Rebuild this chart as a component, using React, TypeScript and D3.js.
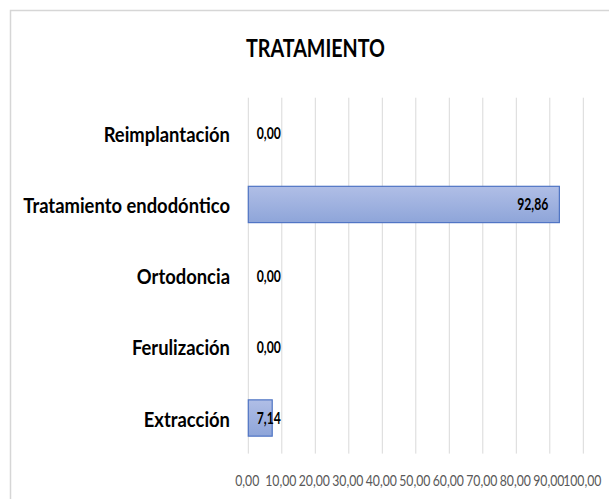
import React from "react";
import * as d3 from "d3";

const title = "TRATAMIENTO";
const categories = [
  "Reimplantación",
  "Tratamiento endodóntico",
  "Ortodoncia",
  "Ferulización",
  "Extracción",
];
const values = [0, 92.86, 0, 0, 7.14];
const tickValues = [0, 10, 20, 30, 40, 50, 60, 70, 80, 90, 100];

const W = 609;
const H = 499;
const FONT = "Lato, 'Open Sans', sans-serif";

const fmt = (v: number) => v.toFixed(2).replace(".", ",");

const squeeze = (cx: number, s: number) =>
  `translate(${cx},0) scale(${s},1) translate(${-cx},0)`;

export default function App() {
  const x = d3.scaleLinear().domain([0, 100]).range([248.3, 583.3]);
  const y = d3
    .scaleBand<string>()
    .domain(categories)
    .range([97.7, 453.6])
    .paddingInner(0.49)
    .paddingOuter(0.245);

  return (
    <svg
      width={W}
      height={H}
      style={{ position: "absolute", left: 0, top: 0, background: "#fff" }}
      fontFamily={FONT}
    >
      <defs>
        <linearGradient id="barGrad" x1="0" y1="0" x2="0" y2="1">
          <stop offset="0%" stopColor="#b0bee6" />
          <stop offset="100%" stopColor="#8ea5d9" />
        </linearGradient>
      </defs>
      <rect x={10.5} y={10.5} width={640} height={540} fill="#fff" stroke="#d6d6d6" strokeWidth={1.5} />
      <text
        x={315.5}
        y={56.5}
        textAnchor="middle"
        fontSize={24.5}
        fontWeight="bold"
        fill="#000"
        textLength={139}
        lengthAdjust="spacingAndGlyphs"
      >
        {title}
      </text>
      {tickValues.map((t) => (
        <line
          key={"g" + t}
          x1={x(t)}
          x2={x(t)}
          y1={y.range()[0]}
          y2={y.range()[1]}
          stroke="#d9d9d9"
          strokeWidth={1}
        />
      ))}
      {tickValues.map((t) => (
        <text
          key={"t" + t}
          x={x(t) - 1}
          y={486}
          textAnchor="middle"
          fontSize={15.5}
          fill="#595959"
          transform={squeeze(x(t) - 1, 0.79)}
        >
          {fmt(t)}
        </text>
      ))}
      {categories.map((c, i) => {
        const yc = (y(c) as number) + y.bandwidth() / 2;
        return (
          <g key={c}>
            <text
              x={230}
              y={yc + 8.6}
              textAnchor="end"
              fontSize={20}
              fontWeight="bold"
              fill="#000"
              transform={squeeze(230, 0.92)}
            >
              {c}
            </text>
            {values[i] > 0 && (
              <rect
                x={x(0)}
                y={y(c)}
                width={x(values[i]) - x(0)}
                height={y.bandwidth()}
                fill="url(#barGrad)"
                stroke="#4f74c4"
                strokeWidth={1.2}
              />
            )}
          </g>
        );
      })}
      {categories.map((c, i) => {
        const yc = (y(c) as number) + y.bandwidth() / 2;
        const inside = x(values[i]) - x(0) > 60;
        const lx = inside ? x(values[i]) - 11 : x(0) + 8.5;
        return (
          <text
            key={"v" + c}
            x={lx}
            y={yc + 6}
            textAnchor={inside ? "end" : "start"}
            fontSize={16.5}
            fontWeight="bold"
            fill="#000"
            transform={squeeze(lx, 0.74)}
          >
            {fmt(values[i])}
          </text>
        );
      })}
    </svg>
  );
}
